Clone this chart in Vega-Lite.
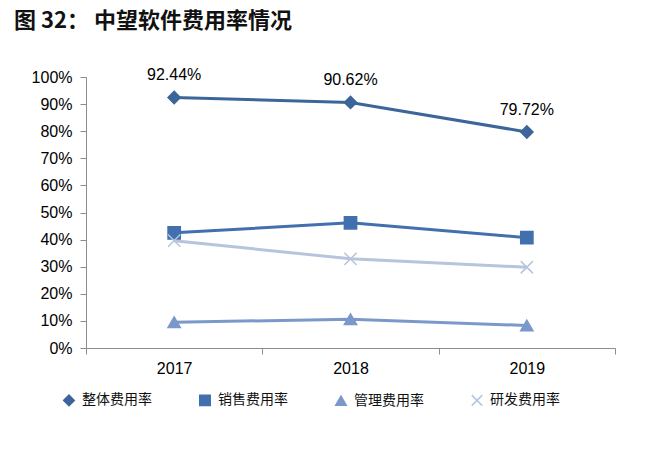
{
  "$schema": "https://vega.github.io/schema/vega-lite/v6.json",
  "autosize": "none",
  "width": 529,
  "height": 271,
  "padding": {"left": 86, "top": 77, "right": 55, "bottom": 105},
  "background": "white",
  "title": {
    "text": "图 32：  中望软件费用率情况",
    "anchor": "start",
    "frame": "group",
    "dx": -72,
    "offset": 34,
    "font": "Noto Sans CJK SC",
    "fontSize": 22,
    "fontWeight": "bold",
    "color": "#111111"
  },
  "config": {
    "view": {"stroke": null},
    "axis": {"grid": false},
    "legend": {
      "title": null,
      "orient": "none",
      "direction": "horizontal",
      "legendX": -24,
      "legendY": 316,
      "columns": 4,
      "columnPadding": 44,
      "labelFont": "Noto Sans CJK SC",
      "labelFontSize": 14,
      "labelColor": "#111111",
      "symbolSize": 110,
      "symbolStrokeWidth": 1.5,
      "labelOffset": 6
    }
  },
  "data": {
    "values": [
      {"year": "2017", "series": "整体费用率", "value": 0.9244},
      {"year": "2018", "series": "整体费用率", "value": 0.9062},
      {"year": "2019", "series": "整体费用率", "value": 0.7972},
      {"year": "2017", "series": "销售费用率", "value": 0.425},
      {"year": "2018", "series": "销售费用率", "value": 0.462},
      {"year": "2019", "series": "销售费用率", "value": 0.407},
      {"year": "2017", "series": "管理费用率", "value": 0.095},
      {"year": "2018", "series": "管理费用率", "value": 0.106},
      {"year": "2019", "series": "管理费用率", "value": 0.083},
      {"year": "2017", "series": "研发费用率", "value": 0.396},
      {"year": "2018", "series": "研发费用率", "value": 0.329},
      {"year": "2019", "series": "研发费用率", "value": 0.298}
    ]
  },
  "encoding": {
    "x": {
      "field": "year",
      "type": "ordinal",
      "scale": {"paddingInner": 0, "paddingOuter": 0},
      "axis": {
        "title": null,
        "labelAngle": 0,
        "tickBand": "extent",
        "labelFont": "Liberation Sans",
        "labelFontSize": 16,
        "labelColor": "#000000",
        "labelPadding": 6,
        "domainColor": "#8c8c8c",
        "tickColor": "#8c8c8c",
        "tickSize": 6
      }
    },
    "y": {
      "field": "value",
      "type": "quantitative",
      "scale": {"domain": [0, 1]},
      "axis": {
        "title": null,
        "values": [0, 0.1, 0.2, 0.3, 0.4, 0.5, 0.6, 0.7, 0.8, 0.9, 1],
        "format": ".0%",
        "labelFont": "Liberation Sans",
        "labelFontSize": 16,
        "labelColor": "#000000",
        "labelPadding": 8,
        "domainColor": "#8c8c8c",
        "tickColor": "#8c8c8c",
        "tickSize": 6
      }
    }
  },
  "layer": [
    {
      "mark": {"type": "line", "strokeWidth": 3},
      "encoding": {
        "color": {
          "field": "series",
          "type": "nominal",
          "scale": {
            "domain": ["整体费用率", "销售费用率", "管理费用率", "研发费用率"],
            "range": ["#3C6699", "#4270AF", "#7B98CA", "#B6C4DD"]
          }
        }
      }
    },
    {
      "mark": {"type": "point", "filled": true, "opacity": 1, "size": 150, "strokeWidth": 1.5},
      "encoding": {
        "color": {
          "field": "series",
          "type": "nominal",
          "scale": {
            "domain": ["整体费用率", "销售费用率", "管理费用率", "研发费用率"],
            "range": ["#3C6699", "#4270AF", "#7B98CA", "#B6C4DD"]
          }
        },
        "stroke": {
          "field": "series",
          "type": "nominal",
          "scale": {
            "domain": ["整体费用率", "销售费用率", "管理费用率", "研发费用率"],
            "range": ["#3C6699", "#4270AF", "#7B98CA", "#B6C4DD"]
          }
        },
        "shape": {
          "field": "series",
          "type": "nominal",
          "scale": {
            "domain": ["整体费用率", "销售费用率", "管理费用率", "研发费用率"],
            "range": ["diamond", "square", "triangle-up", "M-1,-1L1,1M1,-1L-1,1"]
          }
        }
      }
    },
    {
      "transform": [{"filter": "datum.series === '整体费用率'"}],
      "mark": {
        "type": "text",
        "dy": -22,
        "font": "Liberation Sans",
        "fontSize": 16,
        "color": "#000000"
      },
      "encoding": {
        "text": {"field": "value", "type": "quantitative", "format": ".2%"}
      }
    }
  ]
}
